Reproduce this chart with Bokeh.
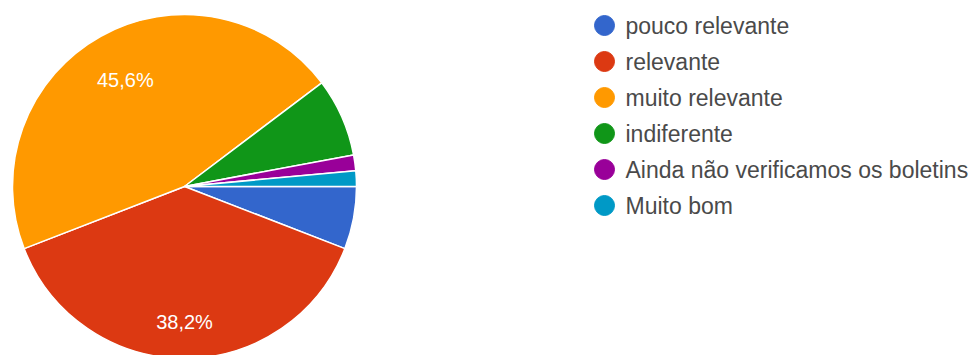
import math
from bokeh.plotting import figure
from bokeh.models import Range1d, ColumnDataSource
from bokeh.core.properties import value
from bokeh.embed import file_html
from bokeh.resources import INLINE

# ---- data ----
categories = ["pouco relevante", "relevante", "muito relevante", "indiferente",
              "Ainda não verificamos os boletins", "Muito bom"]
counts = [4, 26, 31, 5, 1, 1]
colors = ["#3366cc", "#dc3912", "#ff9900", "#109618", "#990099", "#0099c6"]
pct_labels = ["", "38,2%", "45,6%", "", "", ""]

# ---- layout constants (pixels) ----
W, H = 973, 355
CX, CY, R = 184, 186, 172
LABEL_FACTORS = [0.7, 0.79, 0.707, 0.7, 0.7, 0.7]
LEG_X, LEG_Y0, LEG_DY = 604, 25, 36
FONT = "Liberation Sans"

def fy(py):
    return H - py

total = sum(counts)
starts, ends, lx, ly = [], [], [], []
cum = 0.0
for i, c in enumerate(counts):
    f0 = cum / total
    cum += c
    f1 = cum / total
    starts.append(-2 * math.pi * f0)
    ends.append(-2 * math.pi * f1)
    mid = -2 * math.pi * (f0 + f1) / 2
    lx.append(CX + LABEL_FACTORS[i] * R * math.cos(mid))
    ly.append(fy(CY) + LABEL_FACTORS[i] * R * math.sin(mid))

p = figure(width=W, height=H, output_backend="svg", toolbar_location=None,
           x_range=Range1d(0, W), y_range=Range1d(0, H),
           x_axis_location=None, y_axis_location=None,
           min_border=0, outline_line_color=None, background_fill_color="white",
           border_fill_color="white")
p.xgrid.visible = False
p.ygrid.visible = False

src = ColumnDataSource(dict(start=starts, end=ends, color=colors))
p.wedge(x=CX, y=fy(CY), radius=R, start_angle="start", end_angle="end",
        direction="clock", fill_color="color", line_color="white", line_width=1.5,
        source=src)

lab = ColumnDataSource(dict(x=lx, y=ly, t=pct_labels))
p.text(x="x", y="y", text="t", source=lab, text_color="white",
       text_font=value(FONT), text_font_size="20px",
       text_align="center", text_baseline="middle")

leg_y = [fy(LEG_Y0 + LEG_DY * i) for i in range(len(categories))]
leg = ColumnDataSource(dict(x=[LEG_X] * len(categories), y=leg_y,
                            tx=[LEG_X + 21] * len(categories),
                            color=colors, t=categories))
p.scatter(x="x", y="y", size=20, marker="circle", fill_color="color",
          line_color="color", source=leg)
p.text(x="tx", y="y", text="t", source=leg, text_color="#4a4a4a",
       text_font=value(FONT), text_font_size="23px",
       text_align="left", text_baseline="middle")

open("out.html", "w").write(file_html(p, INLINE))
